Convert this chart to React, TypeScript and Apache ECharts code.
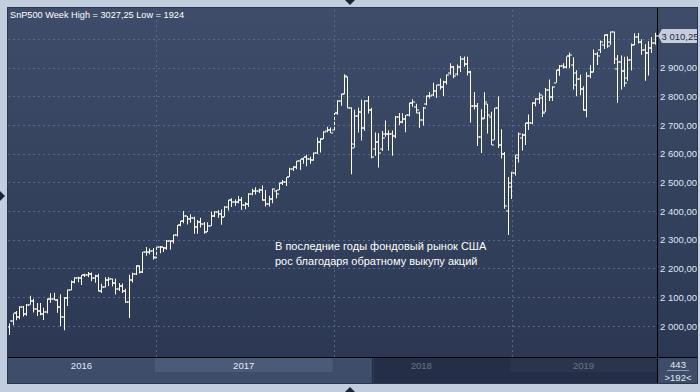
import React, { useEffect, useRef } from "react";
import * as echarts from "echarts";

const FONT = "'Liberation Sans', Arial, sans-serif";

// Weekly bars (week ending Friday), per year: "MM-DD"
const weeks2016 = ["03-11","03-18","03-25","04-01","04-08","04-15","04-22","04-29","05-06","05-13","05-20","05-27","06-03","06-10","06-17","06-24","07-01","07-08","07-15","07-22","07-29","08-05","08-12","08-19","08-26","09-02","09-09","09-16","09-23","09-30","10-07","10-14","10-21","10-28","11-04","11-11","11-18","11-25","12-02","12-09","12-16","12-23","12-30"];
const weeks2017 = ["01-06","01-13","01-20","01-27","02-03","02-10","02-17","02-24","03-03","03-10","03-17","03-24","03-31","04-07","04-14","04-21","04-28","05-05","05-12","05-19","05-26","06-02","06-09","06-16","06-23","06-30","07-07","07-14","07-21","07-28","08-04","08-11","08-18","08-25","09-01","09-08","09-15","09-22","09-29","10-06","10-13","10-20","10-27","11-03","11-10","11-17","11-24","12-01","12-08","12-15","12-22","12-29"];
const weeks2018 = ["01-05","01-12","01-19","01-26","02-02","02-09","02-16","02-23","03-02","03-09","03-16","03-23","03-30","04-06","04-13","04-20","04-27","05-04","05-11","05-18","05-25","06-01","06-08","06-15","06-22","06-29","07-06","07-13","07-20","07-27","08-03","08-10","08-17","08-24","08-31","09-07","09-14","09-21","09-28","10-05","10-12","10-19","10-26","11-02","11-09","11-16","11-23","11-30","12-07","12-14","12-21","12-28"];
const weeks2019 = ["01-04","01-11","01-18","01-25","02-01","02-08","02-15","02-22","03-01","03-08","03-15","03-22","03-29","04-05","04-12","04-19","04-26","05-03","05-10","05-17","05-24","05-31","06-07","06-14","06-21","06-28","07-05","07-12","07-19","07-26","08-02","08-09","08-16","08-23","08-30","09-06","09-13","09-20","09-27","10-04","10-11","10-18","10-25"];

// [open, high, low, close]
const ohlc2016 = [
[1996,2009,1969,2019],[2019,2044,2003,2044],[2044,2052,2020,2031],[2031,2069,2024,2067],[2067,2070,2033,2041],
[2041,2077,2036,2075],[2075,2106,2074,2087],[2087,2095,2047,2059],[2059,2080,2035,2053],[2053,2080,2038,2042],
[2042,2064,2021,2048],[2048,2096,2044,2094],[2094,2114,2081,2095],[2095,2116,2090,2092],[2092,2094,2046,2067],
[2067,2111,1999,2030],[2030,2100,1985,2098],[2098,2127,2070,2125],[2125,2159,2125,2155],[2155,2170,2149,2168],
[2168,2172,2153,2168],[2168,2178,2143,2178],[2178,2182,2171,2179],[2179,2188,2170,2180],[2180,2187,2156,2166],
[2166,2179,2151,2176],[2176,2182,2120,2123],[2123,2147,2115,2135],[2135,2170,2134,2160],[2160,2171,2140,2163],
[2163,2166,2138,2150],[2150,2165,2110,2130],[2130,2150,2122,2138],[2138,2148,2115,2122],[2122,2130,2080,2083],
[2083,2179,2028,2160],[2160,2186,2152,2180],[2180,2212,2178,2210],[2210,2212,2183,2190],[2190,2258,2185,2257],
[2257,2276,2245,2257],[2257,2270,2250,2262],[2262,2272,2232,2236]
];
const ohlc2017 = [
[2240,2282,2236,2277],[2277,2279,2254,2275],[2275,2276,2258,2271],[2271,2300,2266,2295],[2295,2299,2267,2297],
[2297,2319,2288,2316],[2316,2352,2312,2351],[2351,2367,2348,2367],[2367,2401,2358,2383],[2383,2384,2354,2373],
[2373,2390,2360,2378],[2378,2381,2322,2344],[2344,2370,2322,2363],[2363,2378,2344,2356],[2356,2363,2322,2329],
[2329,2362,2328,2349],[2349,2399,2349,2384],[2384,2400,2380,2399],[2399,2404,2378,2391],[2391,2406,2353,2381],
[2381,2418,2381,2416],[2416,2440,2403,2439],[2439,2446,2415,2432],[2432,2441,2419,2433],[2433,2453,2428,2438],
[2438,2450,2405,2423],[2423,2432,2407,2425],[2425,2463,2415,2459],[2459,2479,2456,2472],[2472,2484,2459,2472],
[2472,2480,2464,2476],[2476,2490,2437,2441],[2441,2474,2417,2426],[2426,2454,2417,2443],[2443,2480,2428,2477],
[2470,2474,2446,2461],[2474,2500,2474,2500],[2500,2509,2492,2502],[2502,2519,2488,2519],[2521,2552,2520,2549],
[2549,2557,2541,2553],[2553,2576,2547,2575],[2575,2582,2544,2581],[2581,2588,2566,2588],[2588,2597,2557,2582],
[2582,2590,2566,2579],[2579,2605,2576,2602],[2602,2657,2600,2642],[2642,2655,2605,2652],[2652,2679,2652,2675],
[2680,2695,2676,2683],[2683,2692,2673,2674]
];
const ohlc2018 = [
[2683,2743,2682,2743],[2743,2787,2737,2786],[2786,2810,2768,2810],[2810,2878,2808,2873],[2867,2870,2759,2762],
[2762,2763,2529,2620],[2636,2754,2622,2732],[2732,2761,2675,2747],[2747,2789,2647,2691],[2691,2787,2681,2786],
[2786,2802,2741,2752],[2752,2761,2585,2588],[2619,2675,2594,2641],[2641,2672,2553,2604],[2617,2680,2610,2656],
[2670,2717,2660,2670],[2670,2683,2612,2670],[2670,2682,2594,2663],[2663,2732,2655,2728],[2728,2743,2701,2713],
[2713,2742,2707,2721],[2721,2736,2676,2735],[2735,2779,2731,2779],[2779,2791,2765,2780],[2765,2775,2742,2755],
[2742,2747,2691,2718],[2718,2764,2699,2760],[2775,2804,2770,2801],[2801,2816,2793,2802],[2806,2848,2802,2819],
[2819,2841,2795,2840],[2840,2863,2825,2833],[2833,2855,2802,2850],[2850,2877,2842,2874],[2881,2916,2876,2902],
[2902,2907,2864,2872],[2880,2912,2874,2905],[2905,2941,2886,2930],[2930,2940,2904,2914],[2914,2939,2874,2886],
[2886,2890,2710,2767],[2767,2816,2755,2768],[2768,2778,2628,2659],[2659,2756,2603,2723],[2726,2815,2722,2781],
[2773,2775,2671,2736],[2730,2747,2631,2633],[2649,2760,2649,2760],[2760,2800,2621,2633],[2633,2686,2584,2600],
[2600,2607,2409,2417],[2400,2520,2317,2486]
];
const ohlc2019 = [
[2498,2538,2443,2532],[2535,2597,2525,2596],[2585,2675,2570,2671],[2657,2671,2612,2665],[2665,2709,2631,2707],
[2707,2738,2684,2708],[2708,2780,2704,2776],[2776,2794,2766,2793],[2793,2814,2775,2804],[2796,2804,2729,2743],
[2747,2830,2747,2822],[2822,2860,2785,2800],[2800,2836,2785,2834],[2848,2894,2848,2893],[2893,2910,2873,2907],
[2907,2916,2898,2905],[2905,2940,2898,2940],[2940,2954,2900,2946],[2909,2937,2825,2881],[2841,2892,2801,2860],
[2860,2876,2805,2826],[2826,2836,2751,2752],[2752,2885,2728,2873],[2873,2910,2864,2887],[2887,2964,2884,2950],
[2950,2956,2910,2942],[2964,2996,2952,2990],[2980,3017,2966,3014],[3014,3018,2970,2977],[2992,3027.25,2980,3026],
[3024,3027,2914,2932],[2898,2945,2778,2919],[2919,2943,2825,2889],[2889,2939,2834,2847],[2866,2940,2855,2926],
[2926,2985,2891,2979],[2979,3021,2979,3007],[3007,3022,2985,2992],[2992,3000,2946,2961],[2961,2983,2855,2952],
[2952,2993,2874,2970],[2970,3008,2952,2986],[2986,3023,2981,3010.25]
];

const yTickValues = [2000, 2100, 2200, 2300, 2400, 2500, 2600, 2700, 2800, 2900, 3000];
const yMin = 1892;
const yMax = 3109;
const lastPrice = 3010.25;
const navigatorFrom = "2018-03-30";
const titleText = "SnP500 Week High = 3027,25 Low = 1924";
const noteLines = ["В последние годы фондовый рынок США", "рос благодаря обратному выкупу акций"];
const barsTotal = "443";
const barsVisible = ">192<";

const yearsTable = [
  { year: 2016, weeks: weeks2016, bars: ohlc2016 },
  { year: 2017, weeks: weeks2017, bars: ohlc2017 },
  { year: 2018, weeks: weeks2018, bars: ohlc2018 },
  { year: 2019, weeks: weeks2019, bars: ohlc2019 },
];

const categories: string[] = [];
const ohlcData: number[][] = [];
const yearSegments: { start: number; end: number; label: string; hl: boolean }[] = [];
yearsTable.forEach((y, k) => {
  const start = categories.length;
  y.weeks.forEach((w, j) => {
    categories.push(`${y.year}-${w}`);
    const [o, h, l, c] = y.bars[j];
    ohlcData.push([categories.length - 1, o, h, l, c]);
  });
  yearSegments.push({ start, end: categories.length - 1, label: String(y.year), hl: k % 2 === 1 });
});

// axis labels hidden behind the last-price tag (as in the reference)
const yLabelValues = yTickValues.filter((v) => Math.abs(v - lastPrice) > 25);

function fmt(v: number) {
  const [i, f] = v.toFixed(2).split(".");
  return i.replace(/\B(?=(\d{3})+(?!\d))/g, " ") + "," + f;
}

const GRID_COLOR = "#56678a";
const FRAME = "#c2cedd";
const TAG_BG = "#c6cedb";

function buildOption(): any {
  const navIdx = categories.indexOf(navigatorFrom);
  const lastIdx = categories.length - 1;
  return {
    animation: false,
    backgroundColor: new echarts.graphic.LinearGradient(0, 0, 0, 1, [
      { offset: 0, color: "#3f4d6a" },
      { offset: 1, color: "#2a3651" },
    ]),
    grid: [
      { left: 8, top: 8, width: 649, height: 349, show: false },
      { left: 8, top: 357, width: 649, height: 27, show: true, backgroundColor: "#3e4d69", borderWidth: 0 },
    ],
    xAxis: [
      {
        gridIndex: 0, type: "category", data: categories, boundaryGap: true,
        axisLine: { show: true, lineStyle: { color: "#000", width: 1 } },
        axisTick: { show: false }, axisLabel: { show: false }, splitLine: { show: false },
      },
      { gridIndex: 1, type: "category", data: categories, boundaryGap: true, show: false },
    ],
    yAxis: [
      {
        gridIndex: 0, type: "value", position: "right", min: yMin, max: yMax,
        axisLine: { show: true, lineStyle: { color: "#000", width: 1 } },
        axisTick: { show: false, customValues: yTickValues },
        axisLabel: {
          customValues: yLabelValues, color: "#dfe7f4", fontSize: 9.5, fontFamily: FONT, margin: 3,
          formatter: (v: number) => fmt(v),
        },
        splitLine: { show: true, lineStyle: { color: GRID_COLOR, type: [2, 3], width: 1 } },
      },
      { gridIndex: 1, type: "value", min: 0, max: 1, show: false },
    ],
    series: [
      {
        type: "line", xAxisIndex: 0, yAxisIndex: 0, data: [], z: 1, silent: true,
        markLine: {
          silent: true, symbol: ["none", "none"], animation: false,
          label: { show: false },
          lineStyle: { color: GRID_COLOR, type: [2, 3], width: 1 },
          data: yearSegments.slice(1).map((s) => ({ xAxis: categories[s.start] })),
        },
      },
      {
        type: "custom", xAxisIndex: 0, yAxisIndex: 0, z: 2,
        data: ohlcData,
        encode: { x: 0, y: [1, 2, 3, 4] },
        renderItem: (_params: any, api: any) => {
          const idx = api.value(0);
          const ph = api.coord([idx, api.value(2)]);
          const pl = api.coord([idx, api.value(3)]);
          const po = api.coord([idx, api.value(1)]);
          const pc = api.coord([idx, api.value(4)]);
          const X = Math.floor(ph[0]);
          const yo = Math.round(po[1]) - 0.5;
          const yc = Math.round(pc[1]) - 0.5;
          const fill = "#ffffff";
          return {
            type: "group",
            children: [
              { type: "rect", shape: { x: X, y: ph[1], width: 1, height: Math.max(1, pl[1] - ph[1]) }, style: { fill } },
              { type: "rect", shape: { x: X - 2, y: yo, width: 2, height: 1 }, style: { fill } },
              { type: "rect", shape: { x: X + 1, y: yc, width: 2, height: 1 }, style: { fill } },
            ],
          };
        },
      },
      {
        // last-price tag on the right axis
        type: "custom", xAxisIndex: 0, yAxisIndex: 0, z: 10, clip: false, silent: true,
        data: [[lastIdx, lastPrice]],
        encode: { x: 0, y: 1 },
        renderItem: (params: any, api: any) => {
          const y = Math.round(api.coord([api.value(0), api.value(1)])[1]);
          const xr = params.coordSys.x + params.coordSys.width;
          const left = xr + 4;
          const right = xr + 41;
          return {
            type: "group",
            children: [
              { type: "polygon", shape: { points: [[xr + 1, y], [left, y - 5], [left, y + 5]] }, style: { fill: TAG_BG } },
              { type: "rect", shape: { x: left, y: y - 7, width: right - left, height: 14, r: 2 }, style: { fill: TAG_BG } },
              {
                type: "text",
                style: {
                  x: left + 0.5, y: y + 0.5, text: fmt(api.value(1)), fill: "#1b2b4a",
                  font: `9.5px ${FONT}`, textAlign: "left", textVerticalAlign: "middle",
                },
              },
            ],
          };
        },
      },
      {
        type: "custom", xAxisIndex: 1, yAxisIndex: 1, z: 2,
        data: yearSegments.map((s) => [s.start, s.end, 0]),
        encode: { x: [0, 1], y: 2 },
        renderItem: (params: any, api: any) => {
          const seg = yearSegments[params.dataIndex];
          const band = api.size([1, 0])[0];
          const top = api.coord([seg.start, 1])[1];
          const x0 = Math.max(params.coordSys.x, api.coord([seg.start, 0])[0] - band / 2);
          const x1 = Math.min(params.coordSys.x + params.coordSys.width, api.coord([seg.end, 0])[0] + band / 2);
          const children: any[] = [];
          if (seg.hl) {
            children.push({ type: "rect", shape: { x: x0, y: top + 1, width: x1 - x0, height: 14 }, style: { fill: "#4b5a78" } });
          }
          children.push({
            type: "text",
            style: {
              x: (x0 + x1) / 2, y: top + 8.5, text: seg.label, fill: "#e3ebf6",
              font: `9.5px ${FONT}`, textAlign: "center", textVerticalAlign: "middle",
            },
          });
          return { type: "group", children };
        },
      },
      {
        type: "custom", xAxisIndex: 1, yAxisIndex: 1, z: 3,
        data: [[navIdx, categories.length - 1, 0]],
        encode: { x: [0, 1], y: 2 },
        renderItem: (params: any, api: any) => {
          const band = api.size([1, 0])[0];
          const top = api.coord([navIdx, 1])[1];
          const bottom = api.coord([navIdx, 0])[1];
          const x0 = api.coord([navIdx, 0])[0] - band / 2;
          const x1 = params.coordSys.x + params.coordSys.width;
          return {
            type: "group",
            children: [
              { type: "rect", shape: { x: x0, y: top + 1, width: x1 - x0, height: bottom - top - 1 }, style: { fill: "rgba(20,28,48,0.6)" } },
              { type: "rect", shape: { x: Math.round(x0) - 1, y: top + 1, width: 1, height: bottom - top - 1 }, style: { fill: "#1f2a3f" } },
            ],
          };
        },
      },
    ],
    graphic: [
      // right-bottom info box
      { type: "rect", z: 50, shape: { x: 657, y: 357, width: 41, height: 27 }, style: { fill: "#3e4c68" } },
      { type: "line", z: 51, shape: { x1: 657, y1: 357.5, x2: 698, y2: 357.5 }, style: { stroke: "#000", lineWidth: 1 } },
      { type: "line", z: 51, shape: { x1: 657.5, y1: 357, x2: 657.5, y2: 384 }, style: { stroke: "#000", lineWidth: 1 } },
      { type: "line", z: 51, shape: { x1: 667, y1: 370.5, x2: 689, y2: 370.5 }, style: { stroke: "#8e9cb6", lineWidth: 1 } },
      { type: "text", z: 51, style: { x: 678, y: 364, text: barsTotal, fill: "#e1e9f5", font: `9.5px ${FONT}`, textAlign: "center", textVerticalAlign: "middle" } },
      { type: "text", z: 51, style: { x: 678, y: 377.5, text: barsVisible, fill: "#e1e9f5", font: `9.5px ${FONT}`, textAlign: "center", textVerticalAlign: "middle" } },
      // title
      { type: "text", z: 51, style: { x: 10, y: 15, text: titleText, fill: "#ffffff", font: `9.2px ${FONT}`, textAlign: "left", textVerticalAlign: "middle" } },
      // annotation
      { type: "text", z: 51, style: { x: 275, y: 246, text: noteLines[0], fill: "#ffffff", font: `11px ${FONT}`, textAlign: "left", textVerticalAlign: "middle" } },
      { type: "text", z: 51, style: { x: 275, y: 261, text: noteLines[1], fill: "#ffffff", font: `11px ${FONT}`, textAlign: "left", textVerticalAlign: "middle" } },
      // frame
      { type: "rect", z: 100, shape: { x: 0, y: 0, width: 700, height: 7 }, style: { fill: FRAME } },
      { type: "rect", z: 100, shape: { x: 0, y: 384, width: 700, height: 8 }, style: { fill: FRAME } },
      { type: "rect", z: 100, shape: { x: 0, y: 0, width: 7, height: 392 }, style: { fill: FRAME } },
      { type: "rect", z: 100, shape: { x: 698, y: 0, width: 2, height: 392 }, style: { fill: FRAME } },
      { type: "rect", z: 100, shape: { x: 7.5, y: 7.5, width: 690, height: 376 }, style: { fill: "none", stroke: "#2a3650", lineWidth: 1 } },
      // arrows
      { type: "polygon", z: 101, shape: { points: [[345, 0], [355, 0], [350, 5]] }, style: { fill: "#1b2538" } },
      { type: "polygon", z: 101, shape: { points: [[345, 392], [355, 392], [350, 387]] }, style: { fill: "#1b2538" } },
      { type: "polygon", z: 101, shape: { points: [[0, 191], [0, 201], [5, 196]] }, style: { fill: "#1b2538" } },
    ],
  };
}

export default function App() {
  const ref = useRef<HTMLDivElement>(null);
  useEffect(() => {
    if (!ref.current) return;
    const chart = echarts.init(ref.current, null, { renderer: "svg" });
    chart.setOption(buildOption());
    return () => chart.dispose();
  }, []);
  return <div ref={ref} style={{ position: "fixed", left: 0, top: 0, width: 700, height: 392 }} />;
}
